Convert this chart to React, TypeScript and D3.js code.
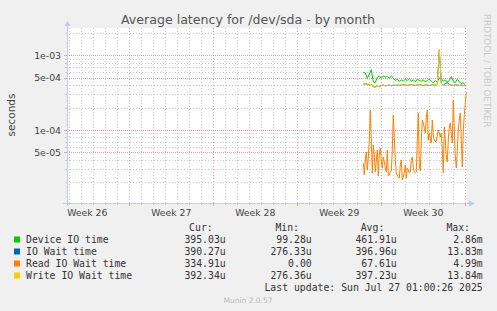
import React, { useEffect, useRef } from 'react';
import * as d3 from 'd3';

const W = 497;
const H = 311;

// legend
const seriesNames = ['Device IO time', 'IO Wait time', 'Read IO Wait time', 'Write IO Wait time'];
const seriesColors = ['#00cc00', '#0066b3', '#ff8000', '#ffcc00'];
const curValues = ['395.03u', '390.27u', '334.91u', '392.34u'];
const minValues = ['99.28u', '276.33u', '0.00', '276.36u'];
const avgValues = ['461.91u', '396.96u', '67.61u', '397.23u'];
const maxValues = ['2.86m', '13.83m', '4.99m', '13.84m'];

// y axis (log)
const yTickValues = [1e-3, 5e-4, 1e-4, 5e-5];
const yTickLabels = ['1e-03', '5e-04', '1e-04', '5e-05'];
const yDomain = [1.054e-5, 2.32e-3];

// time window
const viewStart = new Date(Date.UTC(2025, 5, 24, 19, 24));
const viewEnd = new Date(Date.UTC(2025, 6, 28, 3, 24));
const dataStart = new Date(Date.UTC(2025, 6, 19, 12, 0));

// 4h samples
const deviceIO = [
  5.9e-4, 5.8e-4, 4.9e-4, 5.6e-4, 6.4e-4, 4.4e-4, 4.3e-4, 5.1e-4, 5.3e-4, 4.9e-4,
  5.3e-4, 5.1e-4, 5.2e-4, 4.9e-4, 5.3e-4, 5.0e-4, 4.6e-4, 4.8e-4, 4.5e-4, 4.7e-4,
  4.5e-4, 4.8e-4, 4.6e-4, 4.9e-4, 4.5e-4, 4.7e-4, 4.4e-4, 4.8e-4, 4.6e-4, 4.5e-4,
  4.7e-4, 4.4e-4, 4.6e-4, 4.8e-4, 4.5e-4, 4.3e-4, 4.6e-4, 4.4e-4, 5.0e-4, 4.9e-4,
  4.5e-4, 4.7e-4, 4.4e-4, 4.6e-4, 5.2e-4, 4.5e-4, 4.3e-4, 4.8e-4, 4.4e-4, 4.2e-4,
  4.3e-4, 3.95e-4,
];
const ioWait = [
  4.1e-4, 4.15e-4, 4.1e-4, 4.0e-4, 4.1e-4, 3.8e-4, 3.75e-4, 3.9e-4, 3.8e-4, 3.95e-4,
  4.0e-4, 3.9e-4, 3.95e-4, 4.0e-4, 3.9e-4, 4.0e-4, 3.95e-4, 4.0e-4, 3.95e-4, 4.0e-4,
  4.05e-4, 4.0e-4, 3.95e-4, 4.0e-4, 4.05e-4, 4.0e-4, 3.95e-4, 4.0e-4, 4.05e-4, 4.0e-4,
  3.95e-4, 4.0e-4, 4.0e-4, 3.95e-4, 4.0e-4, 4.05e-4, 4.0e-4, 4.1e-4, 1.19e-3, 4.2e-4,
  4.0e-4, 4.2e-4, 4.3e-4, 4.05e-4, 4.0e-4, 3.95e-4, 4.0e-4, 4.0e-4, 3.95e-4, 4.0e-4,
  3.95e-4, 3.9e-4,
];
const writeIOWait = [
  4.1e-4, 4.15e-4, 4.1e-4, 4.0e-4, 4.1e-4, 3.8e-4, 3.75e-4, 3.9e-4, 3.8e-4, 3.95e-4,
  4.0e-4, 3.9e-4, 3.95e-4, 4.0e-4, 3.9e-4, 4.0e-4, 3.95e-4, 4.0e-4, 3.95e-4, 4.0e-4,
  4.05e-4, 4.0e-4, 3.95e-4, 4.0e-4, 4.05e-4, 4.0e-4, 3.95e-4, 4.0e-4, 4.05e-4, 4.0e-4,
  3.95e-4, 4.0e-4, 4.0e-4, 3.95e-4, 4.0e-4, 4.05e-4, 4.0e-4, 4.1e-4, 1.2e-3, 4.2e-4,
  4.0e-4, 3.95e-4, 4.0e-4, 4.05e-4, 4.0e-4, 3.95e-4, 4.0e-4, 4.0e-4, 3.95e-4, 4.0e-4,
  3.95e-4, 3.92e-4,
];
// 2h samples
const readIOWait = [
  3.61e-5, 2.50e-5, 3.97e-5, 5.08e-5, 2.92e-5, 4.22e-5, 7.35e-5, 1.85e-4, 7.35e-5, 2.66e-5,
  6.30e-5, 4.63e-5, 2.74e-5, 3.97e-5, 5.40e-5, 2.42e-5, 4.63e-5, 5.74e-5, 3.97e-5, 3.10e-5,
  4.35e-5, 3.73e-5, 3.10e-5, 2.74e-5, 5.40e-5, 2.42e-5, 2.50e-5, 2.74e-5, 2.83e-5, 5.40e-5,
  1.59e-4, 7.82e-5, 3.97e-5, 2.66e-5, 2.42e-5, 2.35e-5, 2.28e-5, 3.40e-5, 3.97e-5, 2.14e-5,
  2.35e-5, 2.74e-5, 3.40e-5, 2.28e-5, 3.10e-5, 2.92e-5, 2.66e-5, 2.74e-5, 3.97e-5, 4.35e-5,
  3.10e-5, 2.74e-5, 2.66e-5, 2.74e-5, 7.35e-5, 1.69e-4, 3.40e-5, 2.83e-5, 7.35e-5, 1.36e-4,
  1.24e-4, 1.06e-4, 9.12e-5, 1.45e-4, 1.85e-4, 7.35e-5, 9.12e-5, 7.35e-5, 6.70e-5, 1.36e-4,
  8.57e-5, 7.35e-5, 6.91e-5, 7.13e-5, 8.57e-5, 1.00e-4, 9.12e-5, 8.06e-5, 9.12e-5, 5.40e-5,
  2.66e-5, 1.10e-4, 7.35e-5, 4.35e-5, 3.73e-5, 7.35e-5, 1.10e-4, 1.24e-4, 8.57e-5, 6.70e-5,
  2.52e-4, 1.00e-4, 4.35e-5, 3.10e-5, 5.40e-5, 1.00e-4, 1.36e-4, 1.69e-4, 7.35e-5, 3.20e-5,
  1.00e-4, 1.59e-4, 2.30e-4, 3.23e-4,
];

const App: React.FC = () => {
  const svgRef = useRef<SVGSVGElement>(null);

  useEffect(() => {
    if (!svgRef.current) return;
    const svg = d3.select(svgRef.current);
    svg.selectAll('*').remove();

    const left = 67, right = 467, top = 28, bottom = 203;
    const x = d3.scaleUtc().domain([viewStart, viewEnd]).range([left, right]);
    const y = d3.scaleLog().domain(yDomain).range([bottom, top]);

    svg.append('rect').attr('width', W).attr('height', H).attr('fill', '#f0f0f0');
    svg.append('rect').attr('x', left).attr('y', top).attr('width', right - left).attr('height', bottom - top).attr('fill', '#ffffff');

    // horizontal grid
    const minor: number[] = [];
    for (let d = 1e-5; d <= 1e-3 * 1.01; d *= 10) {
      for (let m = 1; m <= 9; m++) {
        const v = m * d;
        if (v >= yDomain[0] && v <= yDomain[1] && !yTickValues.some(t => Math.abs(t - v) / t < 1e-6)) minor.push(v);
      }
    }
    const grid = svg.append('g').attr('shape-rendering', 'crispEdges');
    minor.forEach(v => {
      const yy = Math.round(y(v)) + 0.5;
      grid.append('line').attr('x1', left).attr('x2', right).attr('y1', yy).attr('y2', yy)
        .attr('stroke', '#cacaca').attr('stroke-dasharray', '1,2');
      grid.append('line').attr('x1', left - 2).attr('x2', left).attr('y1', yy).attr('y2', yy).attr('stroke', '#cacaca');
    });

    // vertical grid, one per day, red on mondays
    const days = d3.utcDay.range(viewStart, viewEnd);
    days.forEach(dd => {
      const xx = Math.round(x(dd)) + 0.5;
      const major = dd.getUTCDay() === 1;
      const col = major ? '#e8a0a0' : '#cacaca';
      grid.append('line').attr('x1', xx).attr('x2', xx).attr('y1', top).attr('y2', bottom)
        .attr('stroke', col).attr('stroke-dasharray', '1,2');
      grid.append('line').attr('x1', xx).attr('x2', xx).attr('y1', bottom).attr('y2', bottom + (major ? 3 : 2)).attr('stroke', col);
    });

    yTickValues.forEach(v => {
      const yy = Math.round(y(v)) + 0.5;
      grid.append('line').attr('x1', left).attr('x2', right).attr('y1', yy).attr('y2', yy)
        .attr('stroke', '#e8a0a0').attr('stroke-dasharray', '1,1');
      grid.append('line').attr('x1', left - 3).attr('x2', left).attr('y1', yy).attr('y2', yy).attr('stroke', '#e8a0a0');
    });

    // series
    const step4 = 4 * 3600 * 1000;
    const step2 = 2 * 3600 * 1000;
    const mk = (vals: number[], step: number) => vals.map((v, i) => ({ t: new Date(dataStart.getTime() + i * step), v }));
    const line = d3.line<{ t: Date; v: number }>().x(d => x(d.t)).y(d => y(d.v));
    const data = [mk(deviceIO, step4), mk(ioWait, step4), mk(readIOWait, step2), mk(writeIOWait, step4)];
    data.forEach((s, i) => {
      svg.append('path').attr('d', line(s)).attr('fill', 'none').attr('stroke', seriesColors[i]).attr('stroke-width', 1);
    });

    // axes
    const axisCol = '#c4c8f4';
    svg.append('line').attr('x1', left + 0.5).attr('x2', left + 0.5).attr('y1', bottom + 3).attr('y2', top - 4).attr('stroke', axisCol);
    svg.append('path').attr('d', `M${left - 2.5},${top - 2}L${left + 3.5},${top - 2}L${left + 0.5},${top - 7}Z`).attr('fill', axisCol);
    svg.append('line').attr('x1', left - 4).attr('x2', right + 4).attr('y1', bottom + 0.5).attr('y2', bottom + 0.5).attr('stroke', axisCol);
    svg.append('path').attr('d', `M${right + 2},${bottom - 2.5}L${right + 2},${bottom + 3.5}L${right + 8},${bottom + 0.5}Z`).attr('fill', axisCol);

    // y labels
    yTickValues.forEach((v, i) => {
      svg.append('text').attr('x', left - 6).attr('y', y(v) + 3.5).attr('text-anchor', 'end')
        .style('font-family', 'DejaVu Sans').style('font-size', '9.3px').attr('fill', '#444').text(yTickLabels[i]);
    });

    // week labels
    const weekFmt = d3.utcFormat('%V');
    d3.utcMonday.range(d3.utcMonday.floor(viewStart), viewEnd).forEach(m => {
      const mid = new Date(m.getTime() + 3.5 * 86400000);
      if (mid < viewStart || mid > viewEnd) return;
      svg.append('text').attr('x', x(mid)).attr('y', 216).attr('text-anchor', 'middle')
        .style('font-family', 'DejaVu Sans').style('font-size', '9.3px').attr('fill', '#444').text(`Week ${+weekFmt(m)}`);
    });

    // title + vertical label
    svg.append('text').attr('x', 248).attr('y', 24).attr('text-anchor', 'middle')
      .style('font-family', 'DejaVu Sans').style('font-size', '12.6px').attr('fill', '#555')
      .text('Average latency for /dev/sda - by month');
    svg.append('text').attr('transform', 'translate(15,115) rotate(-90)').attr('text-anchor', 'middle')
      .style('font-family', 'DejaVu Sans').style('font-size', '10.5px').attr('fill', '#444').text('seconds');
    svg.append('text').attr('transform', 'translate(484,14) rotate(90)')
      .style('font-family', 'DejaVu Sans').style('font-size', '8.8px').attr('fill', '#cccccc').text('RRDTOOL / TOBI OETIKER');

    // legend
    const mono = (sel: any) => sel.style('font-family', 'DejaVu Sans Mono').style('font-size', '9.8px').attr('fill', '#333');
    const headX = [212.7, 299, 384.3, 470];
    ['Cur:', 'Min:', 'Avg:', 'Max:'].forEach((h, i) => {
      mono(svg.append('text').attr('x', headX[i]).attr('y', 231).attr('text-anchor', 'end')).text(h);
    });
    const colX = [225.7, 311.7, 396.7, 482.7];
    seriesNames.forEach((n, i) => {
      const by = 243 + i * 12;
      svg.append('rect').attr('x', 14).attr('y', by - 6.5).attr('width', 6).attr('height', 6).attr('fill', seriesColors[i]);
      mono(svg.append('text').attr('x', 26).attr('y', by)).text(n);
      [curValues, minValues, avgValues, maxValues].forEach((arr, j) => {
        mono(svg.append('text').attr('x', colX[j]).attr('y', by).attr('text-anchor', 'end')).text(arr[i]);
      });
    });
    mono(svg.append('text').attr('x', 482.7).attr('y', 291).attr('text-anchor', 'end')).text('Last update: Sun Jul 27 01:00:26 2025');
    svg.append('text').attr('x', 248).attr('y', 303).attr('text-anchor', 'middle')
      .style('font-family', 'DejaVu Sans').style('font-size', '7.5px').attr('fill', '#bbb').text('Munin 2.0.57');
  }, []);

  return <svg ref={svgRef} width={W} height={H} style={{ position: 'absolute', left: 0, top: 0 }} />;
};

export default App;
